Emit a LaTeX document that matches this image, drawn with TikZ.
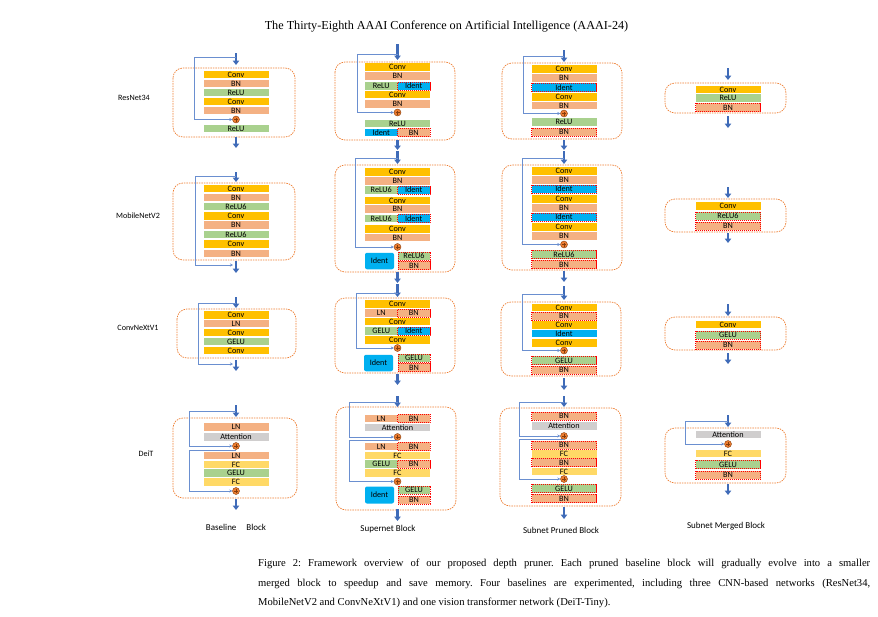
\documentclass[tikz,border=0pt]{standalone}
\usepackage{fontspec}
\setmainfont{Liberation Serif}
\newfontfamily\cali{Carlito}
\usetikzlibrary{arrows.meta}
\definecolor{convc}{HTML}{FFC000}
\definecolor{bnc}{HTML}{F4B183}
\definecolor{reluc}{HTML}{A9D18E}
\definecolor{identc}{HTML}{00B0F0}
\definecolor{attnc}{HTML}{D0CECE}
\definecolor{fcc}{HTML}{FFD966}
\definecolor{blkc}{HTML}{ED7D31}
\definecolor{flowc}{HTML}{3F6BB8}
\definecolor{skipc}{HTML}{6A8FD0}
\definecolor{plusd}{HTML}{843C0C}
\colorlet{plusc}{blkc}

\tikzset{
  lay/.style={rectangle, inner sep=0pt, minimum height=7.4pt, font=\cali\fontsize{8.2}{8}\selectfont},
  full/.style={lay, minimum width=65pt, #1},
  half/.style={lay, minimum width=32.5pt, #1},
  cut/.style={draw=red, dash pattern=on 1.2pt off 0.8pt, line width=0.5pt, minimum height=8.2pt},
  conv/.style={fill=convc}, bn/.style={fill=bnc}, relu/.style={fill=reluc},
  ident/.style={fill=identc}, attn/.style={fill=attnc}, fc/.style={fill=fcc},
  bncut/.style={fill=bnc, cut}, relucut/.style={fill=reluc, cut}, identcut/.style={fill=identc, cut},
  big/.style={lay, fill=identc, rounded corners=2pt, minimum width=29pt, minimum height=16.5pt},
  blk/.style={draw=blkc, dash pattern=on 1.5pt off 1pt, line width=0.7pt, rounded corners=10pt},
  flow/.style={draw=flowc, line width=2.3pt, -{Triangle[width=6.5pt,length=4.5pt]}},
  skip/.style={draw=skipc, line width=0.8pt, -{Stealth[length=3pt,width=3pt]}},
  add/.style={circle, draw=plusd, fill=plusc, minimum size=7pt, inner sep=0pt, line width=0.4pt,
    path picture={\draw[plusd, line width=0.5pt]
      ([xshift=-2pt]path picture bounding box.center) -- ([xshift=2pt]path picture bounding box.center)
      ([yshift=-2pt]path picture bounding box.center) -- ([yshift=2pt]path picture bounding box.center);}},
  lab/.style={font=\cali\fontsize{8.1}{10}\selectfont, inner sep=0pt},
  col/.style={font=\cali\fontsize{9}{10}\selectfont, inner sep=0pt}
}

\begin{document}
\begin{tikzpicture}[x=1pt, y=-1pt]
  \useasboundingbox (0,0) rectangle (878,616);
  \node[font=\fontsize{12.2}{14}\selectfont] (head) at (446.5,27) {The Thirty-Eighth AAAI Conference on Artificial Intelligence (AAAI-24)};

  % row labels
  \node[lab] (lres) at (134,98) {ResNet34};
  \node[lab] (lmob) at (138,216) {MobileNetV2};
  \node[lab] (lcnx) at (138,328) {ConvNeXtV1};
  \node[lab] (ldeit) at (146,454) {DeiT};

  % ResNet34
  \draw[blk] (173,68) rectangle (295,137);
  \foreach \y/\t/\s [count=\i] in {74.5/Conv/conv, 83.5/BN/bn, 92.5/ReLU/relu, 101.5/Conv/conv, 110.5/BN/bn, 128.5/ReLU/relu}
    \node[full=\s] (a1-\i) at (236,\y) {\t};
  \node[add] (a1p) at (236,119.5) {};

  \draw[blk] (335,62) rectangle (455,140);
  \foreach \y/\t/\s [count=\i] in {67/Conv/conv, 76/BN/bn, 94.5/Conv/conv, 104/BN/bn, 123.5/ReLU/relu}
    \node[full=\s] (a2-\i) at (397.5,\y) {\t};
  \node[half=relu] (a2-l1) at (381.25,86) {ReLU};
  \node[half=identcut] (a2-r1) at (413.75,86) {Ident};
  \node[half=ident] (a2-l2) at (381.25,132.5) {Ident};
  \node[half=bncut] (a2-r2) at (413.75,132.5) {BN};
  \node[add] (a2p) at (397.5,112.5) {};

  \draw[blk] (502,63) rectangle (622,139);
  \foreach \y/\t/\s [count=\i] in {69/Conv/conv, 78/BN/bn, 87.5/Ident/identcut, 97/Conv/conv, 105.5/BN/bn, 122/ReLU/relu, 132/BN/bncut}
    \node[full=\s] (a3-\i) at (564,\y) {\t};
  \node[add] (a3p) at (564,113.5) {};

  \draw[blk] (665,83) rectangle (786,113);
  \foreach \y/\t/\s [count=\i] in {89.5/Conv/conv, 98/ReLU/relu, 107.5/BN/bncut}
    \node[full=\s] (a4-\i) at (728,\y) {\t};

  % MobileNetV2
  \draw[blk] (173,183) rectangle (295,260);
  \foreach \y/\t/\s [count=\i] in {188.5/Conv/conv, 197.5/BN/bn, 206.5/ReLU6/relu, 216/Conv/conv, 225/BN/bn, 234.5/ReLU6/relu, 244/Conv/conv, 253.5/BN/bn}
    \node[full=\s] (b1-\i) at (236,\y) {\t};

  \draw[blk] (335,165) rectangle (455,272);
  \foreach \y/\t/\s [count=\i] in {172/Conv/conv, 181/BN/bn, 200.5/Conv/conv, 209/BN/bn, 229/Conv/conv, 237.5/BN/bn}
    \node[full=\s] (b2-\i) at (397.5,\y) {\t};
  \foreach \y [count=\i] in {190,218.5}{
    \node[half=relu] (b2-l\i) at (381.25,\y) {ReLU6};
    \node[half=identcut] (b2-r\i) at (413.75,\y) {Ident};
  }
  \node[add] (b2p) at (397.5,247) {};
  \node[big] (b2-id) at (379.5,261) {Ident};
  \node[half=relucut, minimum width=32pt] (b2-r3) at (414,256) {ReLU6};
  \node[half=bncut, minimum width=32pt] (b2-r4) at (414,265.5) {BN};

  \draw[blk] (502,165) rectangle (622,270);
  \foreach \y/\t/\s [count=\i] in {171/Conv/conv, 180/BN/bn, 189/Ident/identcut, 199/Conv/conv, 208/BN/bn, 217/Ident/identcut, 227/Conv/conv, 236/BN/bn, 254.5/ReLU6/relucut, 264.5/BN/bncut}
    \node[full=\s] (b3-\i) at (564,\y) {\t};
  \node[add] (b3p) at (564,244.5) {};

  \draw[blk] (665,199) rectangle (786,232);
  \foreach \y/\t/\s [count=\i] in {206/Conv/conv, 216/ReLU6/relucut, 226/BN/bncut}
    \node[full=\s] (b4-\i) at (728,\y) {\t};

  % ConvNeXtV1
  \draw[blk] (177,309) rectangle (296,358);
  \foreach \y/\t/\s [count=\i] in {315/Conv/conv, 323.5/LN/bn, 332.5/Conv/conv, 341.5/GELU/relu, 350.5/Conv/conv}
    \node[full=\s] (c1-\i) at (236,\y) {\t};

  \draw[blk] (335,298) rectangle (455,373);
  \foreach \y/\t/\s [count=\i] in {304/Conv/conv, 321.5/Conv/conv, 340/Conv/conv}
    \node[full=\s] (c2-\i) at (397.5,\y) {\t};
  \node[half=bn] (c2-l1) at (381.25,313) {LN};
  \node[half=bncut] (c2-r1) at (413.75,313) {BN};
  \node[half=relu] (c2-l2) at (381.25,331) {GELU};
  \node[half=identcut] (c2-r2) at (413.75,331) {Ident};
  \node[add] (c2p) at (397.5,348) {};
  \node[big] (c2-id) at (378.5,363) {Ident};
  \node[half=relucut, minimum width=32pt] (c2-r3) at (414,358) {GELU};
  \node[half=bncut, minimum width=32pt] (c2-r4) at (414,367.5) {BN};

  \draw[blk] (501,302) rectangle (621,376);
  \foreach \y/\t/\s [count=\i] in {307.5/Conv/conv, 316/BN/bncut, 325/Conv/conv, 333.5/Ident/ident, 343/Conv/conv, 360.5/GELU/relucut, 370/BN/bncut}
    \node[full=\s] (c3-\i) at (564,\y) {\t};
  \node[add] (c3p) at (564,350.5) {};

  \draw[blk] (665,317) rectangle (786,350);
  \foreach \y/\t/\s [count=\i] in {324.5/Conv/conv, 335/GELU/relucut, 345/BN/bncut}
    \node[full=\s] (c4-\i) at (728,\y) {\t};

  % DeiT
  \draw[blk] (173,418) rectangle (297,498);
  \foreach \y/\t/\s [count=\i] in {427/LN/bn, 437/Attention/attn, 455.5/LN/bn, 464.5/FC/fc, 473/GELU/relu, 482/FC/fc}
    \node[full=\s] (d1-\i) at (236,\y) {\t};
  \node[add] (d1p) at (236,446) {};
  \node[add] (d1q) at (236,491) {};

  \draw[blk] (336,407) rectangle (456,510);
  \foreach \y/\t/\s [count=\i] in {427.5/Attention/attn, 455.5/FC/fc, 473/FC/fc}
    \node[full=\s] (d2-\i) at (397.5,\y) {\t};
  \foreach \y/\t/\s [count=\i] in {418.5/LN/bn, 446.5/LN/bn, 464/GELU/relu}
    \node[half=\s] (d2-l\i) at (381.25,\y) {\t};
  \foreach \y [count=\i] in {418.5, 446.5, 464}
    \node[half=bncut] (d2-r\i) at (413.75,\y) {BN};
  \node[add] (d2p) at (397.5,437) {};
  \node[add] (d2q) at (397.5,481.5) {};
  \node[big, minimum height=17pt] (d2-id) at (379.5,495) {Ident};
  \node[half=relucut, minimum width=32pt] (d2-r4) at (414,490) {GELU};
  \node[half=bncut, minimum width=32pt] (d2-r5) at (414,500) {BN};

  \draw[blk] (500,408) rectangle (621,506);
  \foreach \y/\t/\s [count=\i] in {416/BN/bncut, 426/Attention/attn, 445/BN/bncut, 454/FC/fc, 462.5/BN/bncut, 471.5/FC/fc, 488.5/GELU/relucut, 498.5/BN/bncut}
    \node[full=\s] (d3-\i) at (564,\y) {\t};
  \node[add] (d3p) at (564,436) {};
  \node[add] (d3q) at (564,479) {};

  \draw[blk] (665,428) rectangle (786,483);
  \foreach \y/\t/\s [count=\i] in {434.5/Attention/attn, 453.5/FC/fc, 464.5/GELU/relucut, 475/BN/bncut}
    \node[full=\s] (d4-\i) at (728,\y) {\t};
  \node[add] (d4p) at (728,444) {};

  % main flow
  \foreach \x/\a/\b [count=\i] in {236/53/65, 236/137/148, 397.5/44/60, 397.5/140/150, 564/50/62, 564/140/150, 728/68/80, 728/116/128,
      236/172/182, 236/261/273, 397.5/151/164, 397.5/272/283, 564/151/164, 564/271/282, 728/187/198, 728/233/243,
      236/297/308, 236/360/371, 397.5/284/297, 397.5/374/385, 564/286/300, 564/378/390, 728/304/316, 728/353/364,
      236/405/417, 236/499/510, 397.5/396/407, 397.5/509/521, 564/396/407, 564/507/519, 728/415/427, 728/484/495}{
    \coordinate (f\i a) at (\x,\a);
    \coordinate (f\i b) at (\x,\b);
    \draw[flow] (f\i a) -- (f\i b);
  }

  % skip connections
  \foreach \n/\x/\y in {a1/236/57, a2/397.5/54, a3/564/56, b1/236/176, b2/397.5/158, b3/564/158,
      c1/236/303, c2/397.5/293, c3/564/294, d1/236/411, e1/236/450, d2/397.5/402, e2/397.5/440.5,
      d3/564/402, e3/564/439, d4/728/421}
    \coordinate (\n s) at (\x,\y);
  \coordinate (b1e) at (233,265);
  \coordinate (c1e) at (233,364);
  \foreach \s/\d/\p in {a1s/42/a1p, a2s/40.5/a2p, a3s/41/a3p, b1s/41/b1e, b2s/42.5/b2p, b3s/42/b3p,
      c1s/38/c1e, c2s/41.5/c2p, c3s/42/c3p, d1s/47/d1p, e1s/47/d1q, d2s/48.5/d2p, e2s/48.5/d2q,
      d3s/44.5/d3p, e3s/44.5/d3q, d4s/43/d4p}
    \draw[skip] (\s) -- ([xshift=-\d pt]\s) |- (\p);

  % column labels
  \node[col] (lbase) at (236,527) {Baseline\hspace{10pt}Block};
  \node[col] (lsup) at (388,529) {Supernet Block};
  \node[col] (lpru) at (561,530) {Subnet Pruned Block};
  \node[col] (lmer) at (726,526) {Subnet Merged Block};

  % caption
  \begin{scope}[every node/.style={anchor=west, inner sep=0pt, font=\frenchspacing\fontsize{10.6}{13}\selectfont}]
    \node (cap1) at (258,564) {\hbox to 612pt{Figure 2: Framework overview of our proposed depth pruner. Each pruned baseline block will gradually evolve into a smaller}};
    \node (cap2) at (258,584) {\hbox to 612pt{merged block to speedup and save memory. Four baselines are experimented, including three CNN-based networks (ResNet34,}};
    \node (cap3) at (258,603) {MobileNetV2 and ConvNeXtV1) and one vision transformer network (DeiT-Tiny).};
  \end{scope}
\end{tikzpicture}
\end{document}
